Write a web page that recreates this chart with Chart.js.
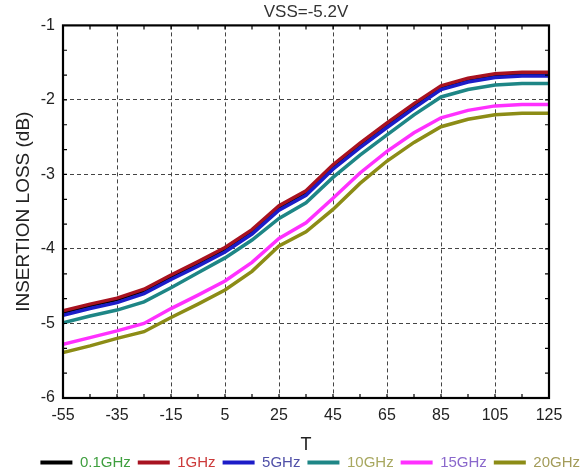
<!DOCTYPE html>
<html>
<head>
<meta charset="utf-8">
<script src="https://cdn.jsdelivr.net/npm/chart.js@4/dist/chart.umd.min.js"></script>
<style>
  html, body { margin: 0; padding: 0; background: #fff; }
  #wrap { width: 580px; height: 475px; }
</style>
</head>
<body>
<div id="wrap"><canvas id="chart" width="580" height="475"></canvas></div>
<script>
// temperature points (deg C)
const temps = [-55, -45, -35, -25, -15, -5, 5, 15, 25, 35, 45, 55, 65, 75, 85, 95, 105, 115, 125];

// insertion loss (dB)
const loss01 = [-4.85, -4.76, -4.68, -4.56, -4.37, -4.19, -4.00, -3.76, -3.44, -3.24, -2.89, -2.60, -2.33, -2.07, -1.83, -1.73, -1.67, -1.65, -1.65];
const loss1 = [-4.83, -4.74, -4.66, -4.54, -4.35, -4.17, -3.98, -3.74, -3.42, -3.22, -2.87, -2.58, -2.31, -2.05, -1.81, -1.71, -1.65, -1.63, -1.63];
const loss5 = [-4.89, -4.80, -4.72, -4.60, -4.41, -4.23, -4.04, -3.80, -3.48, -3.28, -2.93, -2.64, -2.37, -2.11, -1.86, -1.76, -1.70, -1.68, -1.68];
const loss10 = [-4.99, -4.90, -4.82, -4.71, -4.52, -4.32, -4.12, -3.88, -3.59, -3.38, -3.04, -2.74, -2.47, -2.20, -1.96, -1.86, -1.80, -1.78, -1.78];
const loss15 = [-5.28, -5.19, -5.10, -5.00, -4.80, -4.62, -4.43, -4.18, -3.86, -3.65, -3.32, -2.98, -2.69, -2.44, -2.24, -2.14, -2.08, -2.06, -2.06];
const loss20 = [-5.39, -5.30, -5.20, -5.11, -4.92, -4.74, -4.55, -4.30, -3.96, -3.77, -3.47, -3.12, -2.82, -2.57, -2.36, -2.26, -2.20, -2.18, -2.18];

const seriesNames = ["0.1GHz", "1GHz", "5GHz", "10GHz", "15GHz", "20GHz"];
const seriesData = [loss01, loss1, loss5, loss10, loss15, loss20];
const lineColors = ["#000000", "#a81220", "#1c1cc8", "#1e8686", "#ff30ff", "#8c8c16"];
const labelColors = ["#3f9f3f", "#cc3a3a", "#5050a8", "#a8a860", "#8a68cc", "#a39c5a"];
// draw order: blue over red over black
const drawOrder = [3, 2, 1, 0, 0, 0];

const datasets = seriesNames.map((name, i) => ({
    label: name,
    data: temps.map((t, j) => ({ x: t, y: seriesData[i][j] })),
    borderColor: lineColors[i],
    backgroundColor: lineColors[i],
    borderWidth: 3.5,
    pointRadius: 0,
    tension: 0,
    fill: false,
    order: drawOrder[i],
    yAxisID: "y"
}));

// frame box and small inner tick marks
const framePlugin = {
    id: "frame",
    afterDatasetsDraw(chart) {
        const { ctx, chartArea: a, scales } = chart;
        ctx.save();
        ctx.strokeStyle = "#000";
        ctx.lineWidth = 1.2;
        ctx.beginPath();
        for (let t = -45; t <= 115; t += 10) {
            const px = scales.x.getPixelForValue(t);
            ctx.moveTo(px, a.top); ctx.lineTo(px, a.top + 4);
            ctx.moveTo(px, a.bottom); ctx.lineTo(px, a.bottom - 4);
        }
        for (let k = 1; k < 15; k++) {
            const v = -6 + k / 3;
            const py = scales.y.getPixelForValue(v);
            ctx.moveTo(a.left, py); ctx.lineTo(a.left + 4, py);
            ctx.moveTo(a.right, py); ctx.lineTo(a.right - 4, py);
        }
        ctx.stroke();
        ctx.lineWidth = 2.2;
        ctx.strokeRect(a.left, a.top, a.right - a.left, a.bottom - a.top);
        ctx.restore();
    }
};

const gridOpts = {
    color: "#444",
    lineWidth: 1,
    drawTicks: false,
    borderDash: [4, 3]
};

const ctx = document.getElementById("chart").getContext("2d");
new Chart(ctx, {
    type: "line",
    data: { datasets: datasets },
    plugins: [framePlugin],
    options: {
        responsive: false,
        animation: false,
        layout: { padding: { left: 0, right: -7, top: 0, bottom: -5 } },
        plugins: {
            title: {
                display: true,
                text: "VSS=-5.2V",
                fullSize: false,
                color: "#333",
                font: { family: "Liberation Sans", size: 17, weight: "normal" },
                padding: { top: 2, bottom: 3 }
            },
            legend: {
                position: "bottom",
                align: "end",
                labels: {
                    boxWidth: 32,
                    boxHeight: 4,
                    padding: 7,
                    font: { family: "Liberation Sans", size: 15 },
                    generateLabels(chart) {
                        return chart.data.datasets.map((ds, i) => ({
                            text: ds.label,
                            fillStyle: lineColors[i],
                            strokeStyle: lineColors[i],
                            lineWidth: 0,
                            fontColor: labelColors[i],
                            datasetIndex: i,
                            hidden: false
                        }));
                    }
                }
            },
            tooltip: { enabled: false }
        },
        scales: {
            x: {
                type: "linear",
                min: -55,
                max: 125,
                afterBuildTicks(scale) {
                    scale.ticks = temps.filter(t => (t + 55) % 20 === 0).map(v => ({ value: v }));
                },
                afterFit(scale) { scale.height = 50; },
                grid: gridOpts,
                border: { display: false, dash: [4, 3] },
                ticks: {
                    color: "#222",
                    padding: 8,
                    font: { family: "Liberation Sans", size: 16 },
                    maxRotation: 0
                },
                title: {
                    display: true,
                    text: "T",
                    color: "#222",
                    font: { family: "Liberation Sans", size: 18 },
                    padding: { top: 0, bottom: -8 }
                }
            },
            y: {
                type: "linear",
                position: "left",
                min: -6,
                max: -1,
                afterFit(scale) { scale.width = 63; },
                grid: gridOpts,
                border: { display: false, dash: [4, 3] },
                ticks: {
                    stepSize: 1,
                    color: "#222",
                    padding: 8,
                    font: { family: "Liberation Sans", size: 16 }
                },
                title: {
                    display: true,
                    text: "INSERTION LOSS (dB)",
                    color: "#222",
                    font: { family: "Liberation Sans", size: 19 },
                    padding: { top: 12, bottom: 0 }
                }
            },
            y2: {
                type: "linear",
                position: "right",
                display: true,
                min: -6,
                max: -1,
                afterFit(scale) { scale.width = 38; },
                grid: { display: false },
                border: { display: false },
                ticks: { display: false }
            }
        }
    }
});
</script>
</body>
</html>
